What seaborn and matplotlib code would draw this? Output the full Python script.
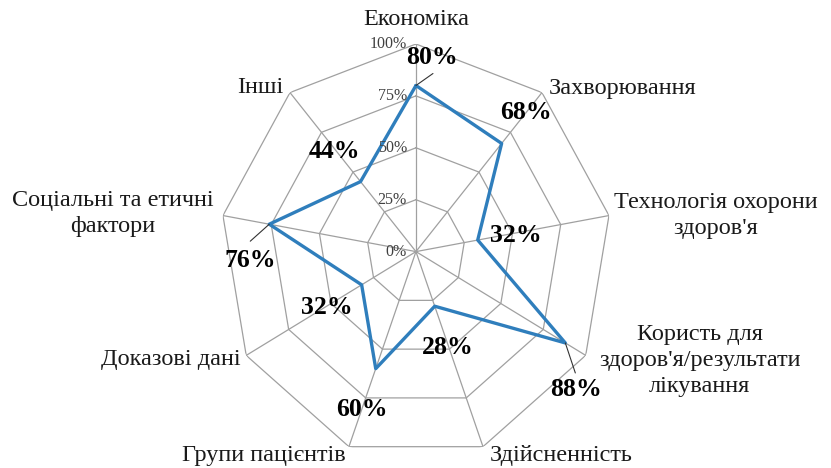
import numpy as np
import pandas as pd
import matplotlib
matplotlib.use('Agg')
import matplotlib.pyplot as plt
import seaborn as sns

# Chart data
categories = ['Економіка', 'Захворювання', "Технологія охорони\nздоров'я",
              "Користь для\nздоров'я/результати\nлікування", 'Здійсненність',
              'Групи пацієнтів', 'Доказові дані', 'Соціальні та етичні\nфактори', 'Інші']
values = [80, 68, 32, 88, 28, 60, 32, 76, 44]
ring_ticks = [0, 25, 50, 75, 100]
ring_labels = ['0%', '25%', '50%', '75%', '100%']

# Label placement (pixel offsets from the outer vertex / data point)
cat_offsets = [(0, 24, 'center'), (7, 4, 'left'), (107, 0, 'center'), (114, -5, 'center'),
               (78, -9, 'center'), (-85, -9, 'center'), (-6, -4, 'right'), (-110, 2, 'center'),
               (-7, 5, 'right')]
val_offsets = [(16, 28), (24, 31), (38, 5), (11, -47), (13, -41), (-14, -41), (-35, -23),
               (-19, -36), (-26, 30)]
leaders = {0: (17, 12), 3: (10, -30), 7: (-19, -17)}

sns.set_theme(style='white')
plt.rcParams['font.family'] = ['Liberation Serif', 'DejaVu Serif']

line_color = '#2f7ebc'
grid_color = '#a0a0a0'
px = 72 / 100  # pixel -> points at dpi 100

n = len(categories)
theta = np.arange(n) * 2 * np.pi / n
df = pd.DataFrame({'theta': np.append(theta, 2 * np.pi), 'value': values + values[:1]})

fig = plt.figure(figsize=(8.31, 4.68), dpi=100)
ax = fig.add_axes([0.2647, 0.0188, 0.4717, 0.8872], projection='polar')
ax.set_aspect('auto')
ax.set_theta_zero_location('N')
ax.set_theta_direction(-1)
ax.set_ylim(0, 100)
ax.grid(False)
ax.spines['polar'].set_visible(False)
ax.set_xticks([])
ax.set_yticks([])

# polygon rings and spokes
ring_theta = np.append(theta, 2 * np.pi)
for r in ring_ticks[1:]:
    ax.plot(ring_theta, [r] * len(ring_theta), color=grid_color, lw=0.9, zorder=1)
for t in theta:
    ax.plot([t, t], [0, 100], color=grid_color, lw=0.9, zorder=1)

sns.lineplot(data=df, x='theta', y='value', sort=False, estimator=None, ax=ax,
             color=line_color, lw=2.4, zorder=3)
ax.set_xlabel('')
ax.set_ylabel('')

# radial tick labels
for r, lab in zip(ring_ticks, ring_labels):
    ax.annotate(lab, xy=(0, r), xytext=(-9 * px, 0), textcoords='offset points',
                ha='right', va='center', fontsize=11.5, color='#404040')

# category labels
for t, lab, (dx, dy, ha) in zip(theta, categories, cat_offsets):
    ax.annotate(lab, xy=(t, 100), xytext=(dx * px, dy * px), textcoords='offset points',
                ha=ha, va='center', multialignment='center', fontsize=17.5,
                color='#1a1a1a', linespacing=1.3)

# value labels
for i, (t, v, (dx, dy)) in enumerate(zip(theta, values, val_offsets)):
    ax.annotate(f'{v}%', xy=(t, v), xytext=(dx * px, dy * px), textcoords='offset points',
                ha='center', va='center', fontsize=18.5, fontweight='bold', color='black')
    if i in leaders:
        lx, ly = leaders[i]
        ax.annotate('', xy=(t, v), xytext=(lx * px, ly * px), textcoords='offset points',
                    arrowprops=dict(arrowstyle='-', color='#333333', lw=0.8,
                                    shrinkA=0, shrinkB=0))

fig.savefig('out.png', dpi=100)
